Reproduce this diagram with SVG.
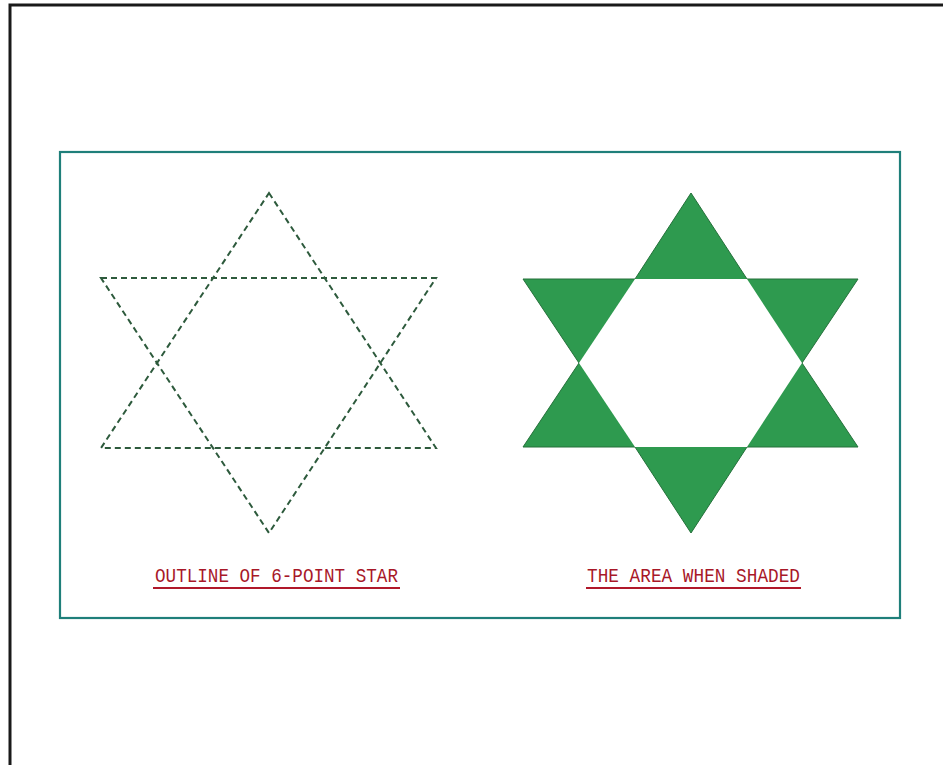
<svg xmlns="http://www.w3.org/2000/svg" width="943" height="765" viewBox="0 0 943 765">
<style>
.frame{fill:none;stroke:#1a1a1a;stroke-width:3}
.panel{fill:none;stroke:#1f7f7a;stroke-width:2.2}
.dash{fill:none;stroke:#2d5a3c;stroke-width:2;stroke-dasharray:6 4}
.solid{fill:#2e9a4f;stroke:#24703a;stroke-width:1}
.lbl{font-family:"Liberation Mono","DejaVu Sans Mono",monospace;font-size:21px;fill:#a81828}
.ul{stroke:#b0182a;stroke-width:2}
</style>
<rect width="943" height="765" fill="#ffffff"/>
<path class="frame" d="M10,768 L10,5 L946,5"/>
<rect class="panel" x="60" y="152" width="840" height="466"/>
<g id="outline-star">
<polygon class="dash" points="269,193 436,448 101,448"/>
<polygon class="dash" points="101,278 436,278 269,533"/>
</g>
<g id="shaded-star">
<polygon class="solid" points="691,193 747,279 858,279 802,363 858,447 747,447 691,533 635,447 523,447 579,363 523,279 635,279"/>
<polygon fill="#ffffff" points="635,279 747,279 802,363 747,447 635,447 579,363"/>
</g>
<g id="label-left">
<text class="lbl" x="155" y="582" textLength="243" lengthAdjust="spacingAndGlyphs">OUTLINE OF 6-POINT STAR</text>
<line class="ul" x1="153" y1="588" x2="400" y2="588"/>
</g>
<g id="label-right">
<text class="lbl" x="587" y="582" textLength="213" lengthAdjust="spacingAndGlyphs">THE AREA WHEN SHADED</text>
<line class="ul" x1="586" y1="588" x2="801" y2="588"/>
</g>
</svg>
